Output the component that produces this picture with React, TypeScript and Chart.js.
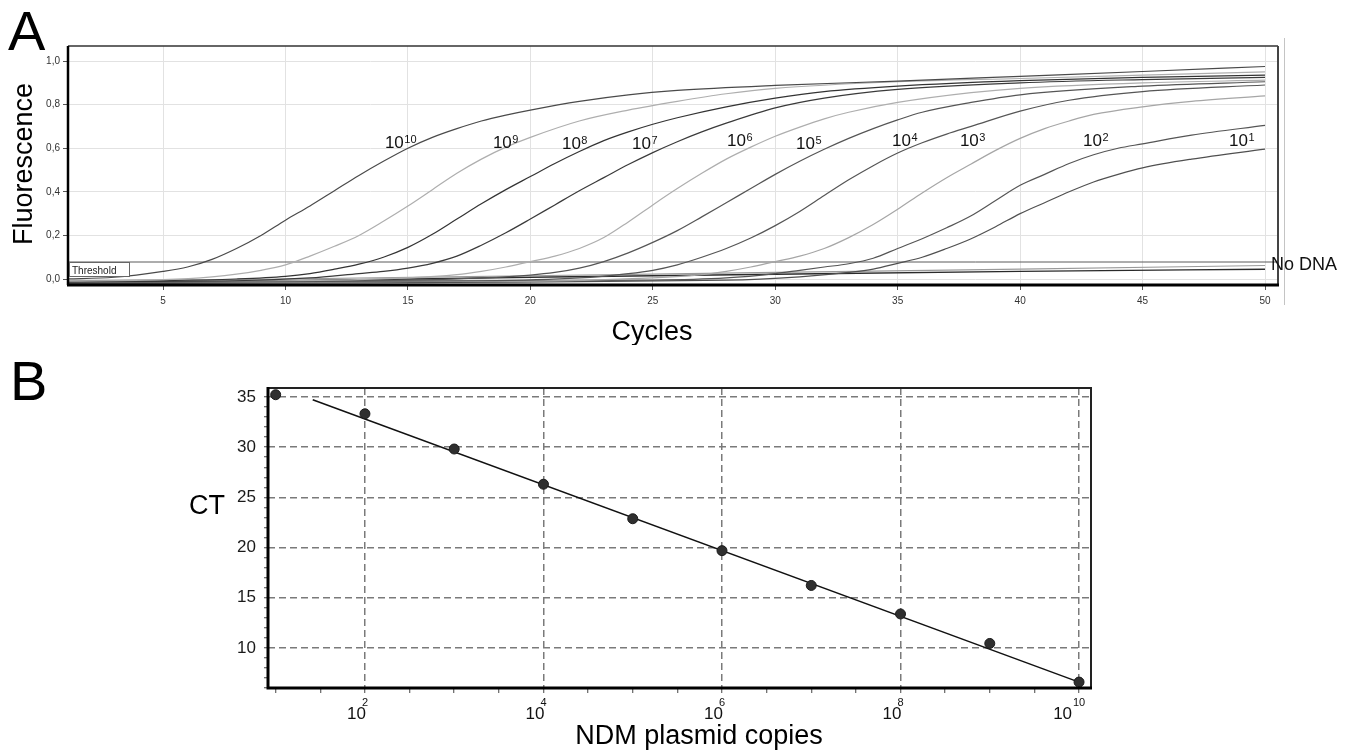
import React, { useEffect, useRef } from "react";
import { Chart, registerables } from "chart.js";

Chart.register(...registerables);

const FONT = '"Liberation Sans", Arial, Helvetica, sans-serif';
Chart.defaults.font.family = FONT;

// ================= Panel A : amplification curves =================
const cycleTicks = [5, 10, 15, 20, 25, 30, 35, 40, 45, 50];
const fluorescenceTicks = [0, 0.2, 0.4, 0.6, 0.8, 1.0];
const cycleRange = [1.12, 50.53];
const fluorescenceRange = [-0.0275, 1.069];
const thresholdLevel = 0.078;

const cycles1e10 = [1, 3, 5, 6, 7, 8, 9, 10, 11, 12, 13, 14, 15, 16, 17, 18, 19, 20, 22, 24, 26, 30, 35, 40, 45, 50];
const fluor1e10 = [0.0, 0.008, 0.035, 0.055, 0.09, 0.14, 0.2, 0.27, 0.335, 0.405, 0.475, 0.54, 0.6, 0.65, 0.69, 0.725, 0.752, 0.775, 0.815, 0.845, 0.865, 0.888, 0.908, 0.93, 0.952, 0.975];

const cycles1e9 = [1, 5, 7, 8, 9, 10, 11, 12, 13, 14, 15, 16, 17, 18, 19, 20, 22, 24, 26, 28, 30, 35, 40, 45, 50];
const fluor1e9 = [-0.01, -0.003, 0.01, 0.022, 0.04, 0.065, 0.105, 0.15, 0.2, 0.265, 0.335, 0.41, 0.485, 0.55, 0.605, 0.65, 0.725, 0.775, 0.815, 0.85, 0.875, 0.905, 0.92, 0.935, 0.95];

const cycles1e8 = [1, 5, 8, 10, 11, 12, 13, 14, 15, 16, 17, 18, 19, 20, 21, 22, 23, 24, 25, 26, 28, 30, 32, 35, 40, 45, 50];
const fluor1e8 = [-0.012, -0.008, 0.0, 0.012, 0.025, 0.045, 0.068, 0.1, 0.145, 0.205, 0.275, 0.345, 0.41, 0.47, 0.53, 0.585, 0.635, 0.675, 0.71, 0.74, 0.79, 0.83, 0.86, 0.885, 0.91, 0.925, 0.935];

const cycles1e7 = [1, 8, 11, 13, 14, 15, 16, 17, 18, 19, 20, 21, 22, 23, 24, 25, 26, 27, 28, 30, 32, 35, 40, 45, 50];
const fluor1e7 = [-0.012, -0.008, 0.005, 0.025, 0.035, 0.05, 0.072, 0.105, 0.155, 0.212, 0.275, 0.34, 0.405, 0.465, 0.525, 0.58, 0.63, 0.675, 0.715, 0.785, 0.83, 0.87, 0.9, 0.915, 0.925];

const cycles1e6 = [1, 10, 15, 17, 18, 19, 20, 21, 22, 23, 24, 25, 26, 27, 28, 29, 30, 31, 32, 33, 35, 38, 40, 45, 50];
const fluor1e6 = [-0.01, -0.008, 0.005, 0.02, 0.035, 0.055, 0.08, 0.105, 0.14, 0.19, 0.262, 0.34, 0.415, 0.485, 0.55, 0.605, 0.655, 0.697, 0.735, 0.765, 0.81, 0.855, 0.875, 0.9, 0.912];

const cycles1e5 = [1, 15, 18, 20, 21, 22, 23, 24, 25, 26, 27, 28, 29, 30, 31, 32, 33, 34, 35, 36, 38, 40, 45, 50];
const fluor1e5 = [-0.012, -0.005, 0.005, 0.018, 0.03, 0.05, 0.08, 0.12, 0.168, 0.222, 0.285, 0.35, 0.415, 0.48, 0.54, 0.595, 0.645, 0.69, 0.73, 0.765, 0.81, 0.845, 0.885, 0.905];

const cycles1e4 = [1, 18, 22, 24, 25, 26, 27, 28, 29, 30, 31, 32, 33, 34, 35, 36, 37, 38, 40, 42, 45, 50];
const fluor1e4 = [-0.015, -0.008, 0.005, 0.025, 0.04, 0.065, 0.1, 0.14, 0.188, 0.245, 0.31, 0.383, 0.455, 0.52, 0.578, 0.625, 0.665, 0.7, 0.77, 0.82, 0.86, 0.89];

const cycles1e3 = [1, 20, 25, 27, 28, 29, 30, 31, 32, 33, 34, 35, 36, 37, 38, 39, 40, 41, 42, 43, 45, 47, 50];
const fluor1e3 = [-0.015, -0.01, 0.005, 0.02, 0.035, 0.055, 0.08, 0.105, 0.14, 0.19, 0.25, 0.32, 0.395, 0.465, 0.528, 0.59, 0.645, 0.69, 0.725, 0.755, 0.79, 0.815, 0.84];

const cycles1e2 = [1, 25, 28, 30, 31, 32, 33, 34, 35, 36, 37, 38, 39, 40, 41, 42, 43, 44, 45, 47, 50];
const fluor1e2 = [-0.015, -0.005, 0.005, 0.025, 0.04, 0.055, 0.07, 0.095, 0.14, 0.185, 0.235, 0.29, 0.36, 0.43, 0.48, 0.53, 0.57, 0.6, 0.62, 0.66, 0.705];

const cycles1e1 = [1, 28, 31, 33, 34, 35, 36, 37, 38, 39, 40, 41, 42, 43, 44, 45, 47, 50];
const fluor1e1 = [-0.02, -0.005, 0.01, 0.03, 0.045, 0.072, 0.1, 0.14, 0.185, 0.24, 0.3, 0.35, 0.4, 0.445, 0.48, 0.51, 0.55, 0.596];

const cyclesNoDnaA = [1, 10, 20, 30, 40, 50];
const fluorNoDnaA = [-0.008, 0.0, 0.015, 0.03, 0.045, 0.062];
const cyclesNoDnaB = [1, 10, 20, 30, 40, 50];
const fluorNoDnaB = [-0.015, -0.008, 0.008, 0.022, 0.035, 0.045];

// curve label exponents and their anchor (cycle, fluorescence) on the plot
const curveExponents = [10, 9, 8, 7, 6, 5, 4, 3, 2, 1];
const labelCycles = [14.06, 18.47, 21.29, 24.15, 28.03, 30.85, 34.77, 37.54, 42.57, 48.53];
const labelFluor = [0.601, 0.601, 0.596, 0.596, 0.61, 0.596, 0.61, 0.61, 0.61, 0.61];

const curveCycles = [cycles1e10, cycles1e9, cycles1e8, cycles1e7, cycles1e6, cycles1e5, cycles1e4, cycles1e3, cycles1e2, cycles1e1];
const curveFluor = [fluor1e10, fluor1e9, fluor1e8, fluor1e7, fluor1e6, fluor1e5, fluor1e4, fluor1e3, fluor1e2, fluor1e1];
const curveColors = ["#4a4a4a", "#aeaeae", "#333333", "#3a3a3a", "#aeaeae", "#555555", "#555555", "#a6a6a6", "#555555", "#505050"];

// ================= Panel B : standard curve =================
const plasmidCopies = [1e1, 1e2, 1e3, 1e4, 1e5, 1e6, 1e7, 1e8, 1e9, 1e10];
const ctValues = [35.23, 33.33, 29.82, 26.31, 22.87, 19.69, 16.22, 13.38, 10.44, 6.59];
const fitCopies = [26, 1e10];
const fitCt = [34.73, 6.59];
const ctTickLabels = [10, 15, 20, 25, 30, 35];
const copiesLabelExponents = [2, 4, 6, 8, 10];
const ctRange = [6.0, 35.9];
const copiesRange = [Math.pow(10, 0.914), Math.pow(10, 10.134)];

const pts = (xs: number[], ys: number[]) => xs.map((x, i) => ({ x, y: ys[i] }));

const panelAPlugin = {
  id: "panelAdecor",
  afterDraw(chart: any) {
    const { ctx, chartArea: ca, scales } = chart;
    const x = scales.x;
    const y = scales.y;
    ctx.save();
    // frame
    ctx.strokeStyle = "#333";
    ctx.lineWidth = 1.5;
    ctx.beginPath();
    ctx.moveTo(ca.left, ca.top);
    ctx.lineTo(ca.right, ca.top);
    ctx.stroke();
    ctx.strokeStyle = "#444";
    ctx.lineWidth = 2;
    ctx.beginPath();
    ctx.moveTo(ca.right, ca.top);
    ctx.lineTo(ca.right, ca.bottom);
    ctx.stroke();
    ctx.strokeStyle = "#000";
    ctx.lineWidth = 2.5;
    ctx.beginPath();
    ctx.moveTo(ca.left, ca.top);
    ctx.lineTo(ca.left, ca.bottom);
    ctx.stroke();
    ctx.lineWidth = 3;
    ctx.beginPath();
    ctx.moveTo(ca.left - 1, ca.bottom);
    ctx.lineTo(ca.right + 1, ca.bottom);
    ctx.stroke();
    // outer thin line
    ctx.strokeStyle = "#c4c4c4";
    ctx.lineWidth = 1;
    ctx.beginPath();
    ctx.moveTo(ca.right + 6.5, ca.top - 8);
    ctx.lineTo(ca.right + 6.5, ca.bottom + 20);
    ctx.stroke();

    // threshold box
    const ty = y.getPixelForValue(thresholdLevel);
    ctx.fillStyle = "#fff";
    ctx.fillRect(ca.left + 1.5, ty + 0.5, 60, 14);
    ctx.strokeStyle = "#666";
    ctx.lineWidth = 1;
    ctx.strokeRect(ca.left + 1.5, ty + 0.5, 60, 14);
    ctx.fillStyle = "#222";
    ctx.font = `10px ${FONT}`;
    ctx.textAlign = "left";
    ctx.textBaseline = "alphabetic";
    ctx.fillText("Threshold", ca.left + 4, ty + 11.5);

    // curve labels 10^n
    curveExponents.forEach((e, i) => {
      const px = x.getPixelForValue(labelCycles[i]);
      const py = y.getPixelForValue(labelFluor[i]);
      ctx.fillStyle = "#111";
      ctx.font = `17px ${FONT}`;
      ctx.fillText("10", px, py);
      const w = ctx.measureText("10").width;
      ctx.font = `11px ${FONT}`;
      ctx.fillText(String(e), px + w + 0.5, py - 5.5);
    });

    // No DNA
    ctx.font = `18px ${FONT}`;
    ctx.fillStyle = "#111";
    ctx.textBaseline = "middle";
    ctx.fillText("No DNA", ca.right - 7, y.getPixelForValue(0.066));

    // titles
    ctx.textBaseline = "alphabetic";
    ctx.font = `56px ${FONT}`;
    ctx.fillStyle = "#000";
    ctx.fillText("A", 8, 50);
    ctx.font = `27px ${FONT}`;
    ctx.textAlign = "center";
    ctx.fillText("Cycles", 652, 340);
    ctx.save();
    ctx.translate(32, 164);
    ctx.rotate(-Math.PI / 2);
    ctx.fillText("Fluorescence", 0, 0);
    ctx.restore();
    ctx.restore();
  },
};

const panelBPlugin = {
  id: "panelBdecor",
  afterDraw(chart: any) {
    const { ctx, chartArea: ca, scales } = chart;
    const x = scales.x;
    ctx.save();
    // frame
    ctx.strokeStyle = "#222";
    ctx.lineWidth = 2;
    ctx.beginPath();
    ctx.moveTo(ca.left, ca.top);
    ctx.lineTo(ca.right, ca.top);
    ctx.lineTo(ca.right, ca.bottom);
    ctx.stroke();
    ctx.strokeStyle = "#000";
    ctx.lineWidth = 3;
    ctx.beginPath();
    ctx.moveTo(ca.left, ca.top - 1);
    ctx.lineTo(ca.left, ca.bottom);
    ctx.lineTo(ca.right + 1, ca.bottom);
    ctx.stroke();

    // x labels: 10 with superscript exponent
    ctx.fillStyle = "#111";
    ctx.textBaseline = "alphabetic";
    copiesLabelExponents.forEach((e) => {
      const gx = x.getPixelForValue(Math.pow(10, e));
      const sup = String(e);
      ctx.font = `17px ${FONT}`;
      ctx.textAlign = "right";
      ctx.fillText("10", gx + 1 - (sup.length - 1) * 8, ca.bottom + 31);
      ctx.font = `11px ${FONT}`;
      ctx.textAlign = "center";
      ctx.fillText(sup, gx, ca.bottom + 18);
    });

    // titles
    ctx.fillStyle = "#000";
    ctx.textAlign = "left";
    ctx.font = `56px ${FONT}`;
    ctx.fillText("B", 10, 55);
    ctx.font = `27px ${FONT}`;
    ctx.fillText("CT", 189, 169);
    ctx.textAlign = "center";
    ctx.fillText("NDM plasmid copies", 699, 399);
    ctx.restore();
  },
};

const isLabelledCt = (v: number) => ctTickLabels.indexOf(Math.round(v)) >= 0 && Math.abs(v - Math.round(v)) < 1e-6;
const isLabelledDecade = (v: number) => {
  const l = Math.log10(v);
  return Math.abs(l - Math.round(l)) < 1e-6 && copiesLabelExponents.indexOf(Math.round(l)) >= 0;
};

export default function App() {
  const refA = useRef<HTMLCanvasElement | null>(null);
  const refB = useRef<HTMLCanvasElement | null>(null);

  useEffect(() => {
    if (!refA.current || !refB.current) return;

    const curveSets = curveCycles.map((cs, i) => ({
      data: pts(cs, curveFluor[i]),
      borderColor: curveColors[i],
      borderWidth: 1.2,
      pointRadius: 0,
      cubicInterpolationMode: "monotone",
      fill: false,
    }));

    const chartA = new Chart(refA.current, {
      type: "line",
      data: {
        datasets: [
          ...curveSets,
          { data: pts(cyclesNoDnaA, fluorNoDnaA), borderColor: "#9a9a9a", borderWidth: 1.2, pointRadius: 0, fill: false, cubicInterpolationMode: "monotone" },
          { data: pts(cyclesNoDnaB, fluorNoDnaB), borderColor: "#2a2a2a", borderWidth: 1.4, pointRadius: 0, fill: false, cubicInterpolationMode: "monotone" },
          {
            data: [
              { x: cycleRange[0], y: thresholdLevel },
              { x: cycleRange[1], y: thresholdLevel },
            ],
            borderColor: "#5a5a5a",
            borderWidth: 1,
            pointRadius: 0,
            fill: false,
          },
        ] as any,
      },
      options: {
        responsive: false,
        animation: false,
        devicePixelRatio: 1,
        layout: { padding: { top: 46, right: 71, left: 0, bottom: 0 } },
        plugins: { legend: { display: false }, tooltip: { enabled: false } },
        scales: {
          x: {
            type: "linear",
            min: cycleRange[0],
            max: cycleRange[1],
            afterBuildTicks: (s: any) => {
              s.ticks = cycleTicks.map((v) => ({ value: v }));
            },
            afterFit: (s: any) => {
              s.height = 60;
            },
            ticks: { autoSkip: false, maxRotation: 0, font: { size: 10, family: FONT }, color: "#333", padding: 5 },
            grid: { color: "#e2e2e2", lineWidth: 1, tickColor: "#555", tickLength: 5 },
            border: { display: false },
          },
          y: {
            type: "linear",
            min: fluorescenceRange[0],
            max: fluorescenceRange[1],
            afterBuildTicks: (s: any) => {
              s.ticks = fluorescenceTicks.map((v) => ({ value: v }));
            },
            afterFit: (s: any) => {
              s.width = 68;
            },
            ticks: {
              autoSkip: false,
              font: { size: 10, family: FONT },
              color: "#333",
              padding: 3,
              callback: (v: any) => Number(v).toFixed(1).replace(".", ","),
            },
            grid: { color: "#e2e2e2", lineWidth: 1, tickColor: "#555", tickLength: 5 },
            border: { display: false },
          },
        },
      } as any,
      plugins: [panelAPlugin],
    });

    const chartB = new Chart(refB.current, {
      type: "scatter",
      data: {
        datasets: [
          {
            data: pts(plasmidCopies, ctValues),
            pointRadius: 5,
            pointBackgroundColor: "#2f2f2f",
            pointBorderColor: "#1a1a1a",
            pointBorderWidth: 1,
            order: 0,
            clip: false,
          },
          {
            data: pts(fitCopies, fitCt),
            showLine: true,
            borderColor: "#111",
            borderWidth: 1.5,
            pointRadius: 0,
            order: 1,
          },
        ] as any,
      },
      options: {
        responsive: false,
        animation: false,
        devicePixelRatio: 1,
        layout: { padding: { top: 43, right: 258, left: 0, bottom: 0 } },
        plugins: { legend: { display: false }, tooltip: { enabled: false } },
        scales: {
          x: {
            type: "logarithmic",
            min: copiesRange[0],
            max: copiesRange[1],
            afterBuildTicks: (s: any) => {
              const t = [];
              for (let k = 2; k <= 20; k++) t.push({ value: Math.pow(10, k / 2) });
              s.ticks = t;
            },
            afterFit: (s: any) => {
              s.height = 63;
            },
            ticks: { autoSkip: false, maxRotation: 0, callback: () => "" },
            grid: {
              color: (c: any) => (c.tick && isLabelledDecade(c.tick.value) ? "#7a7a7a" : "rgba(0,0,0,0)"),
              lineWidth: 1.5,
              tickColor: "#444",
              tickLength: 5,
              tickWidth: 1,
            },
            border: { display: false, dash: [7, 4] },
          },
          y: {
            type: "linear",
            min: ctRange[0],
            max: ctRange[1],
            afterBuildTicks: (s: any) => {
              const t = [];
              for (let v = 6; v <= 35; v++) t.push({ value: v });
              s.ticks = t;
            },
            afterFit: (s: any) => {
              s.width = 268;
            },
            ticks: {
              autoSkip: false,
              font: { size: 17, family: FONT },
              color: "#1a1a1a",
              padding: 8,
              callback: (v: any) => (isLabelledCt(Number(v)) ? String(v) : ""),
            },
            grid: {
              color: (c: any) => (c.tick && isLabelledCt(c.tick.value) ? "#7a7a7a" : "rgba(0,0,0,0)"),
              lineWidth: 1.5,
              tickColor: "#444",
              tickLength: 4,
              tickWidth: 1,
            },
            border: { display: false, dash: [7, 4] },
          },
        },
      } as any,
      plugins: [panelBPlugin],
    });

    return () => {
      chartA.destroy();
      chartB.destroy();
    };
  }, []);

  return (
    <div style={{ position: "absolute", left: 0, top: 0, width: 1349, height: 751, background: "#fff", overflow: "hidden" }}>
      <canvas ref={refA} width={1349} height={345} style={{ position: "absolute", left: 0, top: 0, width: 1349, height: 345 }} />
      <canvas ref={refB} width={1349} height={406} style={{ position: "absolute", left: 0, top: 345, width: 1349, height: 406 }} />
    </div>
  );
}
